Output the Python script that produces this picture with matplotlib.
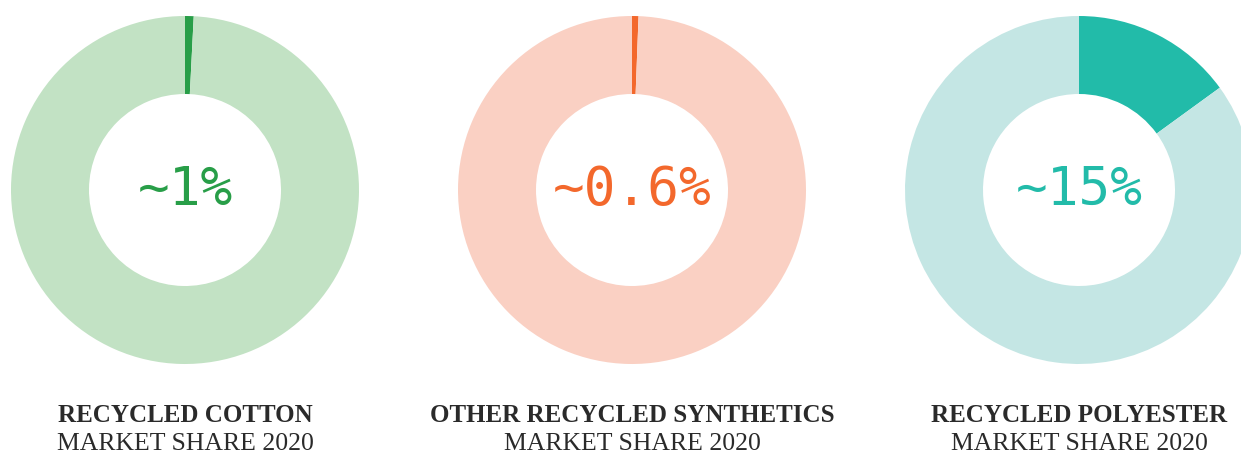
import matplotlib.pyplot as plt

# market share of recycled fibres, 2020
titles = ['RECYCLED COTTON', 'OTHER RECYCLED SYNTHETICS', 'RECYCLED POLYESTER']
subtitles = ['MARKET SHARE 2020', 'MARKET SHARE 2020', 'MARKET SHARE 2020']
shares = [0.8, 0.6, 15]
share_labels = ['~1%', '~0.6%', '~15%']

dark_colors = ['#289e48', '#f3682c', '#22bba9']
light_colors = ['#c2e2c4', '#fad0c3', '#c4e6e4']
centers_x = [185, 632, 1079]

W, H = 1241, 457
fig = plt.figure(figsize=(W / 100, H / 100), dpi=100)
ax = fig.add_axes([0, 0, 1, 1])

cy = H - 190
for i in range(len(titles)):
    cx = centers_x[i]
    ax.pie([shares[i], 100 - shares[i]], colors=[dark_colors[i], light_colors[i]],
           startangle=90, counterclock=False, radius=174, center=(cx, cy),
           wedgeprops=dict(width=78, linewidth=0))
    ax.text(cx, cy, share_labels[i], ha='center', va='center',
            family='DejaVu Sans Mono', fontsize=38, color=dark_colors[i])
    ax.text(cx, H - 416, titles[i], ha='center', va='center',
            family='Liberation Serif', fontweight='bold', fontsize=18, color='#2a2a2a')
    ax.text(cx, H - 444, subtitles[i], ha='center', va='center',
            family='Liberation Serif', fontsize=18.5, color='#2a2a2a')

ax.set_xlim(0, W)
ax.set_ylim(0, H)
ax.set_aspect('equal')
ax.axis('off')

fig.savefig('out.png', dpi=100)
